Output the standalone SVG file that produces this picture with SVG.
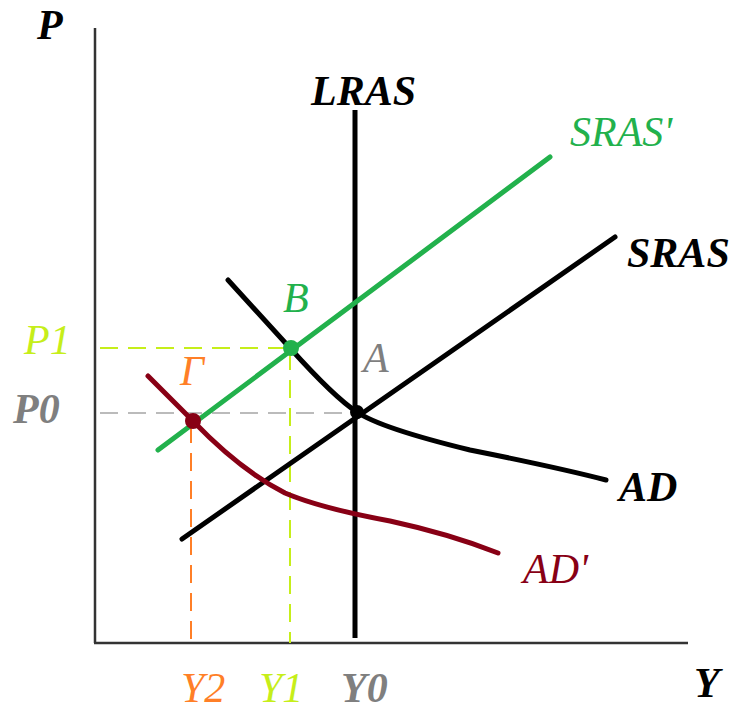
<svg xmlns="http://www.w3.org/2000/svg" width="742" height="713" viewBox="0 0 742 713">
<style>
text{font-family:'Liberation Serif','Times New Roman',serif;font-style:italic;font-size:42px}
.b{font-weight:bold}
.ax{stroke:#333;stroke-width:2.5;fill:none}
.crv{fill:none;stroke-width:5;stroke-linecap:round;stroke-linejoin:round}
.dash{fill:none;stroke-width:2;stroke-dasharray:18,10}
</style>
<rect width="742" height="713" fill="#fff"/>
<g id="axes">
<line class="ax" x1="95" y1="28" x2="95" y2="643"/>
<line class="ax" x1="94" y1="643" x2="688" y2="643"/>
<text class="b" x="37" y="39" fill="#000">P</text>
<text class="b" x="694" y="697" fill="#000">Y</text>
</g>
<g id="connectors">
<line class="dash" x1="100" y1="348" x2="290" y2="348" stroke="#c6ee1a"/>
<line class="dash" x1="290" y1="352" x2="290" y2="643" stroke="#c6ee1a"/>
<line class="dash" x1="100" y1="413" x2="355" y2="413" stroke="#bbb"/>
<line class="dash" x1="191" y1="425" x2="191" y2="643" stroke="#ff7f27"/>
</g>
<g id="LRAS">
<line x1="355" y1="110" x2="355" y2="638" stroke="#000" stroke-width="5"/>
<text class="b" x="311" y="105" fill="#000">LRAS</text>
</g>
<g id="SRAS">
<line class="crv" x1="182" y1="539" x2="615" y2="237" stroke="#000"/>
<text class="b" x="627" y="267" fill="#000">SRAS</text>
</g>
<g id="SRAS2">
<line class="crv" x1="158" y1="450" x2="550" y2="157" stroke="#22b14c"/>
<text x="570" y="146" fill="#22b14c">SRAS'</text>
</g>
<g id="AD">
<path class="crv" d="M228,280 L290,348 Q335,398 357,412 Q380,428 470,450 Q560,468 606,480" stroke="#000"/>
<text class="b" x="619" y="501" fill="#000">AD</text>
</g>
<g id="AD2">
<path class="crv" d="M148,376 L193,421 Q240,470 285,493 Q320,508 390,521 Q450,534 498,553" stroke="#880015"/>
<text x="523" y="583" fill="#880015">AD'</text>
</g>
<g id="pointA">
<circle cx="357" cy="412" r="7" fill="#000"/>
<text x="363" y="372" fill="#7f7f7f">A</text>
</g>
<g id="pointB">
<circle cx="291" cy="348" r="8" fill="#22b14c"/>
<text x="283" y="312" fill="#22b14c">B</text>
</g>
<g id="pointG">
<circle cx="193" cy="421" r="8" fill="#880015"/>
<text x="180" y="385" fill="#ff7f27">Γ</text>
</g>
<g id="labels">
<text x="24" y="354" fill="#c6ee1a">P1</text>
<text class="b" x="13" y="423" fill="#7f7f7f">P0</text>
<text x="181" y="702" fill="#ff7f27">Y2</text>
<text x="259" y="702" fill="#c6ee1a">Y1</text>
<text class="b" x="341" y="702" fill="#7f7f7f">Y0</text>
</g>
</svg>
